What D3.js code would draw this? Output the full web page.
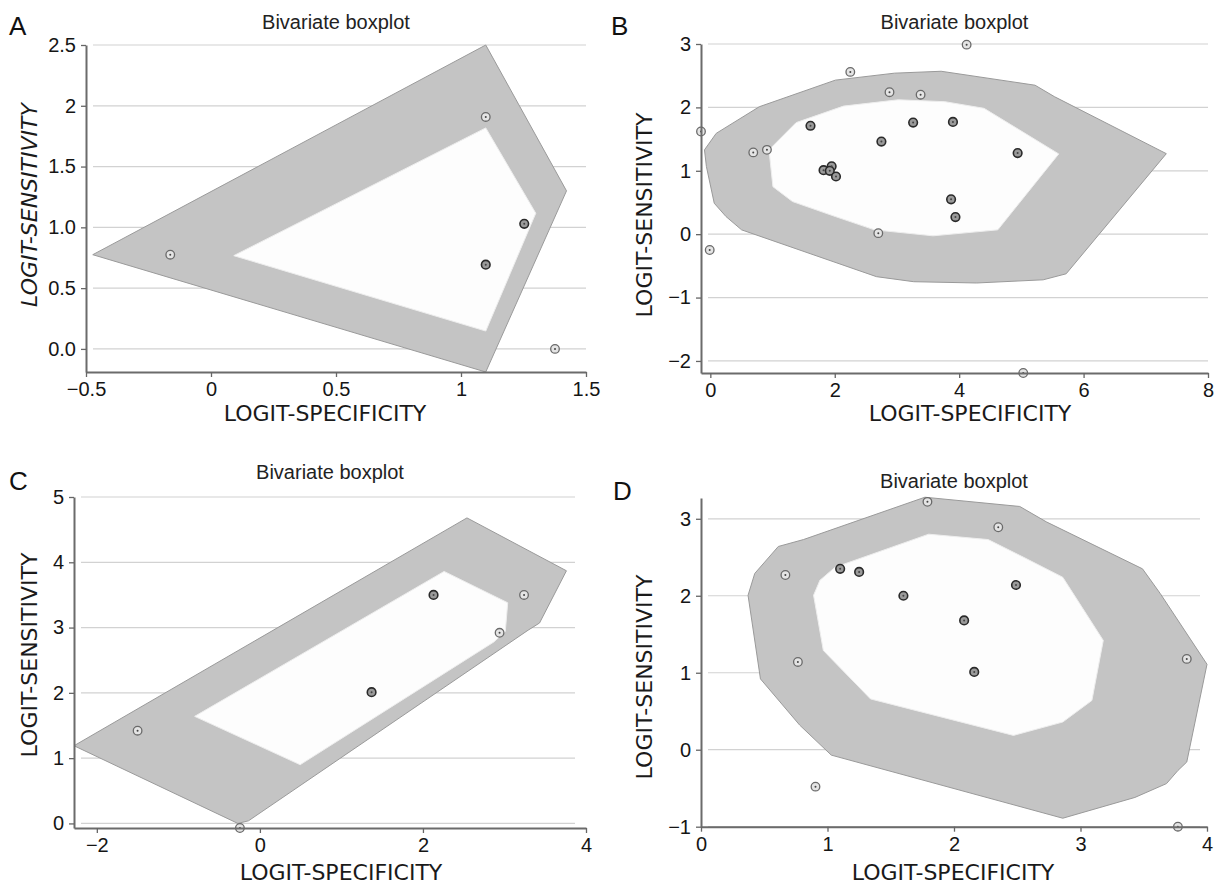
<!DOCTYPE html>
<html>
<head>
<meta charset="utf-8">
<script src="https://cdn.jsdelivr.net/npm/d3@7"></script>
<style>
  body { margin: 0; background: #fff; }
  svg { display: block; }
  .tick text { font-family: "Liberation Sans", Arial, sans-serif; font-size: 20px; fill: #151515; }
  .tick line { stroke: #666; stroke-width: 1.3; }
  .domain { stroke: #6b6b6b; stroke-width: 2; }
  .grid { stroke: #d2d2d2; stroke-width: 1.2; }
  .title { font-family: "Liberation Sans", Arial, sans-serif; font-size: 20px; fill: #222; }
  .letter { font-family: "Liberation Sans", Arial, sans-serif; font-size: 26px; fill: #111; }
  .axtitle { font-family: "DejaVu Sans", "Open Sans", sans-serif; font-size: 22px; fill: #1a1a1a; }
</style>
</head>
<body>
<div id="chart"></div>
<script>
// panel A
const aXTicks = [-0.5, 0, 0.5, 1, 1.5]
const aXLabels = ["\u22120.5", "0", "0.5", "1", "1.5"]
const aYTicks = [0, 0.5, 1, 1.5, 2, 2.5]
const aYLabels = ["0.0", "0.5", "1.0", "1.5", "2", "2.5"]
const aOuter = [[-0.473, 0.775], [1.099, 2.50], [1.422, 1.30], [1.099, -0.19]]
const aInner = [[0.091, 0.767], [1.099, 1.818], [1.299, 1.116], [1.099, 0.147]]
const aOutliers = [[-0.163, 0.775], [1.099, 1.908], [1.376, 0.0]]
const aCore = [[1.253, 1.029], [1.099, 0.693]]

// panel B
const bXTicks = [0, 2, 4, 6, 8]
const bXLabels = ["0", "2", "4", "6", "8"]
const bYTicks = [-2, -1, 0, 1, 2, 3]
const bYLabels = ["\u22122", "\u22121", "0", "1", "2", "3"]
const bOuter = [[-0.094, 1.33], [0.094, 1.59], [0.786, 2.01], [2.01, 2.43], [2.96, 2.54], [3.71, 2.57],
  [5.22, 2.35], [5.53, 2.17], [7.33, 1.27], [5.72, -0.625], [5.35, -0.72], [4.28, -0.77], [3.27, -0.75],
  [2.67, -0.67], [0.503, 0.068], [0.252, 0.278], [0.063, 0.488], [-0.063, 1.066]]
const bInner = [[0.943, 1.33], [1.006, 0.75], [1.32, 0.515], [2.01, 0.278], [2.64, 0.068], [3.58, -0.026],
  [4.62, 0.068], [5.60, 1.266], [4.40, 1.985], [3.77, 2.09], [3.02, 2.12], [2.14, 2.02], [1.38, 1.76]]
const bOutliers = [[4.12, 2.99], [2.25, 2.56], [2.88, 2.24], [3.38, 2.20], [-0.15, 1.62], [0.69, 1.29],
  [0.91, 1.33], [-0.01, -0.25], [2.70, 0.016], [5.03, -2.19]]
const bCore = [[1.61, 1.71], [3.26, 1.76], [3.90, 1.77], [2.75, 1.46], [4.94, 1.28], [1.82, 1.01],
  [1.95, 1.07], [1.92, 1.00], [2.02, 0.91], [3.87, 0.55], [3.94, 0.27]]

// panel C
const cXTicks = [-2, 0, 2, 4]
const cXLabels = ["\u22122", "0", "2", "4"]
const cYTicks = [0, 1, 2, 3, 4, 5]
const cYLabels = ["0", "1", "2", "3", "4", "5"]
const cOuter = [[-2.28, 1.19], [2.54, 4.68], [3.76, 3.87], [3.43, 3.07], [3.29, 2.96], [-0.14, 0.04], [-0.27, 0.0]]
const cInner = [[-0.80, 1.64], [2.26, 3.86], [3.04, 3.38], [3.01, 2.94], [2.87, 2.78], [0.494, 0.90]]
const cOutliers = [[-1.50, 1.42], [3.24, 3.50], [2.94, 2.92], [-0.245, -0.07]]
const cCore = [[2.13, 3.50], [1.37, 2.01]]

// panel D
const dXTicks = [0, 1, 2, 3, 4]
const dXLabels = ["0", "1", "2", "3", "4"]
const dYTicks = [-1, 0, 1, 2, 3]
const dYLabels = ["\u22121", "0", "1", "2", "3"]
const dOuter = [[0.372, 2.006], [0.425, 2.29], [0.611, 2.64], [0.81, 2.73], [1.77, 3.28], [2.52, 3.16],
  [2.73, 2.96], [3.49, 2.35], [3.63, 2.03], [4.0, 1.11], [3.84, -0.16], [3.77, -0.27], [3.68, -0.44],
  [3.43, -0.62], [2.86, -0.89], [1.03, -0.07], [0.78, 0.32], [0.47, 0.92]]
const dInner = [[0.89, 2.006], [0.94, 2.20], [1.06, 2.37], [1.80, 2.80], [2.27, 2.73], [2.55, 2.50],
  [2.86, 2.24], [3.18, 1.42], [3.09, 0.64], [2.86, 0.36], [2.47, 0.186], [1.34, 0.66], [0.967, 1.29]]
const dOutliers = [[1.79, 3.22], [2.35, 2.89], [0.667, 2.27], [0.766, 1.14], [3.84, 1.18], [0.905, -0.48], [3.77, -1.0]]
const dCore = [[1.10, 2.35], [1.25, 2.31], [1.60, 2.00], [2.49, 2.14], [2.08, 1.68], [2.16, 1.01]]

const panels = [
  {letter: "A", xTicks: aXTicks, xLabels: aXLabels, yTicks: aYTicks, yLabels: aYLabels,
   outer: aOuter, inner: aInner, outliers: aOutliers, core: aCore,
   xDomain: [-0.5, 1.5], yDomain: [-0.19, 2.5], left: 86, right: 586, top: 45, bottom: 372,
   letterPos: [9, 35], titleY: 29, xTitle: [325, 421], yTitle: [37, 205], italic: true, gridInset: 0},
  {letter: "B", xTicks: bXTicks, xLabels: bXLabels, yTicks: bYTicks, yLabels: bYLabels,
   outer: bOuter, inner: bInner, outliers: bOutliers, core: bCore,
   xDomain: [-0.15, 8], yDomain: [-2.19, 3], left: 701, right: 1208, top: 44, bottom: 373,
   letterPos: [611, 35], titleY: 29, xTitle: [970, 421], yTitle: [652, 215], italic: false, gridInset: 0},
  {letter: "C", xTicks: cXTicks, xLabels: cXLabels, yTicks: cYTicks, yLabels: cYLabels,
   outer: cOuter, inner: cInner, outliers: cOutliers, core: cCore,
   xDomain: [-2.28, 4], yDomain: [-0.07, 5], left: 74, right: 586, top: 497, bottom: 828,
   letterPos: [9, 490], titleY: 479, xTitle: [341, 880], yTitle: [37, 655], italic: false, gridInset: 11},
  {letter: "D", xTicks: dXTicks, xLabels: dXLabels, yTicks: dYTicks, yLabels: dYLabels,
   outer: dOuter, inner: dInner, outliers: dOutliers, core: dCore,
   xDomain: [0, 4], yDomain: [-1, 3.27], left: 701, right: 1207, top: 498, bottom: 826.7,
   letterPos: [613, 500], titleY: 488, xTitle: [953, 880], yTitle: [652, 677], italic: false, gridInset: 7}
]

const svg = d3.select("#chart").append("svg")
  .attr("width", 1215)
  .attr("height", 887)

panels.forEach(p => {
  const x = d3.scaleLinear().domain(p.xDomain).range([p.left, p.right])
  const y = d3.scaleLinear().domain(p.yDomain).range([p.bottom, p.top])
  const g = svg.append("g").attr("class", "panel")

  // horizontal grid
  g.selectAll("line.grid")
    .data(p.yTicks)
    .join("line")
    .attr("class", "grid")
    .attr("x1", p.left + 7)
    .attr("x2", p.right - p.gridInset)
    .attr("y1", d => y(d))
    .attr("y2", d => y(d))

  const line = d3.line(d => x(d[0]), d => y(d[1])).curve(d3.curveLinearClosed)

  g.append("path")
    .attr("d", line(p.outer))
    .attr("fill", "#c4c4c4")
    .attr("stroke", "#9a9a9a")
    .attr("stroke-width", 1)

  g.append("path")
    .attr("d", line(p.inner))
    .attr("fill", "#fdfdfd")
    .attr("stroke", "#eeeeee")
    .attr("stroke-width", 1)

  g.selectAll("circle.out")
    .data(p.outliers)
    .join("circle")
    .attr("class", "out")
    .attr("cx", d => x(d[0]))
    .attr("cy", d => y(d[1]))
    .attr("r", 4.3)
    .attr("fill", "#e4e4e4")
    .attr("stroke", "#6a6a6a")
    .attr("stroke-width", 1.3)

  g.selectAll("circle.core")
    .data(p.core)
    .join("circle")
    .attr("class", "core")
    .attr("cx", d => x(d[0]))
    .attr("cy", d => y(d[1]))
    .attr("r", 4.3)
    .attr("fill", "#9a9a9a")
    .attr("stroke", "#2a2a2a")
    .attr("stroke-width", 1.6)

  // tiny study marks inside the circles
  g.selectAll("circle.dot")
    .data(p.outliers.concat(p.core))
    .join("circle")
    .attr("class", "dot")
    .attr("cx", d => x(d[0]))
    .attr("cy", d => y(d[1]))
    .attr("r", 1)
    .attr("fill", "#444")

  const xAxis = d3.axisBottom(x)
    .tickValues(p.xTicks)
    .tickFormat((d, i) => p.xLabels[i])
    .tickSize(5)
    .tickSizeOuter(0)
    .tickPadding(5)
  const yAxis = d3.axisLeft(y)
    .tickValues(p.yTicks)
    .tickFormat((d, i) => p.yLabels[i])
    .tickSize(5)
    .tickSizeOuter(0)
    .tickPadding(5)

  g.append("g")
    .attr("transform", `translate(0,${p.bottom})`)
    .call(xAxis)
  g.append("g")
    .attr("transform", `translate(${p.left},0)`)
    .call(yAxis)

  g.append("text")
    .attr("class", "letter")
    .attr("x", p.letterPos[0])
    .attr("y", p.letterPos[1])
    .text(p.letter)

  g.append("text")
    .attr("class", "title")
    .attr("x", (p.left + p.right) / 2)
    .attr("y", p.titleY)
    .attr("text-anchor", "middle")
    .text("Bivariate boxplot")

  g.append("text")
    .attr("class", "axtitle")
    .attr("x", p.xTitle[0])
    .attr("y", p.xTitle[1])
    .attr("text-anchor", "middle")
    .text("LOGIT-SPECIFICITY")

  g.append("text")
    .attr("class", "axtitle")
    .attr("text-anchor", "middle")
    .attr("transform", `translate(${p.yTitle[0]},${p.yTitle[1]}) rotate(-90)`)
    .style("font-style", p.italic ? "italic" : "normal")
    .text("LOGIT-SENSITIVITY")
})
</script>
</body>
</html>
